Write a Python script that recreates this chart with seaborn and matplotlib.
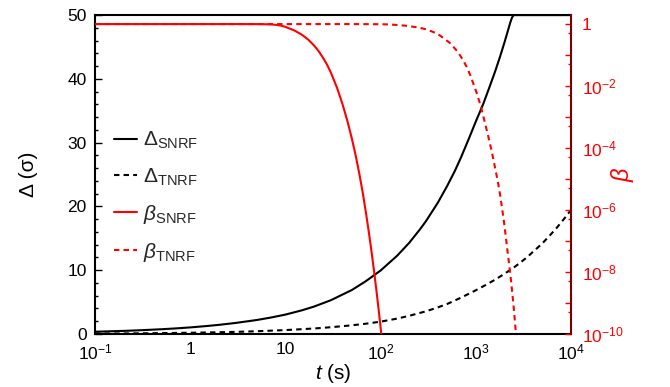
import numpy as np
import pandas as pd
import matplotlib
matplotlib.use("Agg")
import matplotlib.pyplot as plt
import seaborn as sns
from matplotlib.ticker import LogLocator, MultipleLocator, NullFormatter, FixedLocator, FuncFormatter

# ---- data ----
t_delta_snrf = [0.1, 0.2, 0.3, 0.5, 0.7, 1, 1.5, 2, 3, 5, 7, 10, 15, 20, 30, 50, 70,
                100, 150, 200, 259, 300, 400, 500, 600, 700, 850, 1000, 1200, 1400,
                1600, 1800, 2000, 2200, 2300, 2400, 2500, 10000]
delta_snrf = [0.35, 0.485, 0.587, 0.746, 0.87, 1.03, 1.25, 1.43, 1.73, 2.19, 2.57,
              3.04, 3.72, 4.3, 5.29, 6.9, 8.28, 9.95, 12.3, 14.3, 16.4, 17.7, 20.6,
              23.2, 25.5, 27.7, 30.7, 33.3, 36.1, 38.8, 41.2, 43.5, 45.7, 47.8, 48.8,
              49.6, 50.0, 50.0]

t_delta_tnrf = [0.1, 0.2, 0.3, 0.5, 1, 2, 3, 5, 10, 20, 30, 50, 70, 100, 150, 200,
                300, 400, 500, 700, 1000, 1300, 1600, 2000, 2500, 3000, 3500, 4000,
                5000, 6000, 7000, 8000, 9000, 10000]
delta_tnrf = [0.061, 0.086, 0.106, 0.136, 0.19, 0.27, 0.33, 0.43, 0.61, 0.86, 1.06,
              1.36, 1.61, 1.93, 2.42, 2.85, 3.56, 4.17, 4.70, 5.7, 6.85, 7.76, 8.53,
              9.43, 10.4, 11.3, 12.1, 12.9, 14.2, 15.46, 16.55, 17.6, 18.55, 19.45]

t_beta_snrf = [0.1, 1, 3, 5, 6, 7, 8, 9, 10, 12.5, 15, 17.5, 20, 22.5, 25, 27.5, 30,
               35, 40, 45, 50, 55, 60, 65, 70, 75, 80, 85, 90, 95, 100, 105]
beta_snrf = [1, 1, 1, 0.9977, 0.9908, 0.975, 0.944, 0.891, 0.813, 0.617, 0.447,
             0.309, 0.204, 0.130, 0.0794, 0.0479, 0.0275, 8.51e-3, 2.48e-3, 7.08e-4,
             1.97e-4, 5.37e-5, 1.40e-5, 3.55e-6, 8.61e-7, 2.07e-7, 4.95e-8, 1.19e-8,
             2.85e-9, 6.84e-10, 1.64e-10, 3.94e-11]

t_beta_tnrf = [0.1, 10, 50, 100, 120, 150, 180, 221, 260, 300, 340, 388, 430, 480,
               530, 580, 640, 690, 740, 802, 870, 950, 1030, 1107, 1180, 1250, 1330,
               1410, 1480, 1560, 1640, 1723, 1810, 1900, 2000, 2111, 2180, 2250, 2320,
               2384, 2450, 2520, 2580, 2643, 2750]
beta_tnrf = [1, 1, 1, 0.989, 0.977, 0.933, 0.891, 0.818, 0.759, 0.676, 0.589, 0.501,
             0.407, 0.316, 0.251, 0.186, 0.132, 0.0933, 0.0661, 0.0417, 0.0234,
             0.0112, 5.6e-3, 2.7e-3, 1.32e-3, 6.3e-4, 3.0e-4, 1.38e-4, 7.1e-5, 3.2e-5,
             1.51e-5, 6.9e-6, 2.8e-6, 1.0e-6, 3.2e-7, 7.9e-8, 3.5e-8, 1.6e-8, 7.1e-9,
             3.2e-9, 1.41e-9, 5.6e-10, 2.5e-10, 1.0e-10, 2.5e-11]

x_ticks = [0.1, 1, 10, 100, 1000, 10000]
x_tick_labels = [r"$10^{-1}$", "1", "10", r"$10^{2}$", r"$10^{3}$", r"$10^{4}$"]
b_ticks = [1, 1e-2, 1e-4, 1e-6, 1e-8, 1e-10]
b_tick_labels = ["1", r"$10^{-2}$", r"$10^{-4}$", r"$10^{-6}$", r"$10^{-8}$", r"$10^{-10}$"]

legend_labels = [r"$\Delta_{\mathrm{SNRF}}$", r"$\Delta_{\mathrm{TNRF}}$",
                 r"$\beta_{\mathrm{SNRF}}$", r"$\beta_{\mathrm{TNRF}}$"]

# ---- style ----
sns.set_theme(style="white")
plt.rcParams["font.family"] = ["Liberation Sans", "DejaVu Sans"]
plt.rcParams["mathtext.fontset"] = "custom"
plt.rcParams["mathtext.rm"] = "Liberation Sans"
plt.rcParams["mathtext.it"] = "Liberation Sans:italic"
plt.rcParams["mathtext.bf"] = "Liberation Sans:bold"
plt.rcParams["axes.unicode_minus"] = True

RED = "#ff0000"
DARKRED = "#7a0000"
dash = (0, (2.6, 2.0))

fig = plt.figure(figsize=(6.7, 3.87), dpi=100)
ax = fig.add_axes([0.1418, 0.137, 0.7104, 0.824])
ax2 = ax.twinx()

df1 = pd.DataFrame({"t": t_delta_snrf, "v": delta_snrf})
df2 = pd.DataFrame({"t": t_delta_tnrf, "v": delta_tnrf})
df3 = pd.DataFrame({"t": t_beta_snrf, "v": beta_snrf})
df4 = pd.DataFrame({"t": t_beta_tnrf, "v": beta_tnrf})

sns.lineplot(data=df1, x="t", y="v", ax=ax, color="black", linewidth=1.5, legend=False)
sns.lineplot(data=df2, x="t", y="v", ax=ax, color="black", linewidth=1.5,
             linestyle=dash, legend=False)
sns.lineplot(data=df3, x="t", y="v", ax=ax2, color=RED, linewidth=1.5, legend=False)
sns.lineplot(data=df4, x="t", y="v", ax=ax2, color=RED, linewidth=1.5,
             linestyle=dash, legend=False)

ax.set_xscale("log")
ax.set_xlim(0.1, 1e4)
ax.set_ylim(0, 50)
ax2.set_yscale("log")
ax2.set_ylim(1e-10, 1.95)

# x ticks
ax.set_xticks(x_ticks, x_tick_labels)
ax.xaxis.set_minor_locator(LogLocator(base=10, subs=np.arange(2, 10)))
ax.xaxis.set_minor_formatter(NullFormatter())
# left y ticks
ax.yaxis.set_major_locator(MultipleLocator(10))
ax.yaxis.set_minor_locator(MultipleLocator(2))
ax.tick_params(axis="both", which="both", direction="in", colors="black",
               labelsize=12.5, top=False, right=False, width=1.0)
ax.tick_params(which="major", length=5)
ax.tick_params(which="minor", length=2.5)
ax.tick_params(axis="x", pad=6)
ax.tick_params(axis="y", pad=6)

# right y ticks
label_map = dict(zip([round(np.log10(b)) for b in b_ticks], b_tick_labels))
ax2.yaxis.set_major_locator(FixedLocator([10.0 ** k for k in range(-10, 1)]))
ax2.yaxis.set_major_formatter(FuncFormatter(lambda v, p: label_map.get(round(np.log10(v)), "")))
ax2.yaxis.set_minor_locator(FixedLocator([5 * 10.0 ** k for k in range(-11, 0)]))
ax2.yaxis.set_minor_formatter(NullFormatter())
ax2.tick_params(axis="y", which="both", direction="in", colors=RED, labelcolor=RED,
                labelsize=12.5, width=1.0, pad=8)
ax2.tick_params(which="major", length=4)
ax2.tick_params(which="minor", length=2.5)

for sp in ["left", "bottom", "top"]:
    ax.spines[sp].set_color("black")
    ax.spines[sp].set_linewidth(1.5)
ax.spines["right"].set_visible(False)
for sp in ["left", "bottom", "top"]:
    ax2.spines[sp].set_visible(False)
ax2.spines["right"].set_color(DARKRED)
ax2.spines["right"].set_linewidth(1.5)

ax.set_xlabel(r"$t$ (s)", fontsize=15, color="black")
ax.xaxis.set_label_coords(0.5, -0.088)
ax.set_ylabel("Δ (σ)", fontsize=15, color="black")
ax.yaxis.set_label_coords(-0.12, 0.5)
ax2.set_ylabel(r"$\beta$", fontsize=17, color=RED, rotation=90)
ax2.yaxis.set_label_coords(1.08, 0.5)

handles = [ax.lines[0], ax.lines[1], ax2.lines[0], ax2.lines[1]]
leg = ax2.legend(handles, legend_labels, loc="center left", bbox_to_anchor=(0.0, 0.43),
                 frameon=False, fontsize=15, handlelength=1.1, handletextpad=0.3,
                 labelspacing=0.72)

fig.savefig("out.png", dpi=100)
